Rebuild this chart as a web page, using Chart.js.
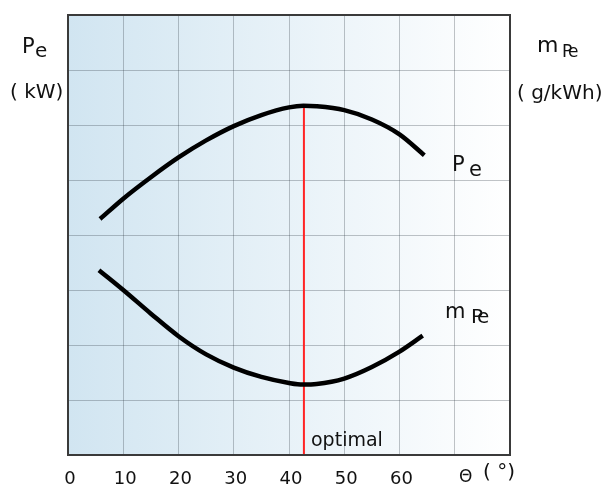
<!DOCTYPE html>
<html>
<head>
<meta charset="utf-8">
<script src="https://cdn.jsdelivr.net/npm/chart.js@4"></script>
<style>
  body { margin: 0; background: #fff; }
  #box { width: 613px; height: 487px; position: relative; }
</style>
</head>
<body>
<div id="box"><canvas id="grafico"></canvas></div>
<script>
// ignition angle (deg) and the two curves read along it
const anguloPe = [5.8, 10, 15, 20, 25, 30, 35, 40, 42.6, 45, 50, 55, 60, 64.5];
const valoresPe = [4.29, 4.66, 5.05, 5.41, 5.72, 5.98, 6.18, 6.32, 6.35, 6.34, 6.27, 6.10, 5.83, 5.45];
const anguloMpe = [5.6, 10, 15, 20, 25, 30, 35, 40, 42.5, 45, 50, 55, 60, 64.2];
const valoresMpe = [3.36, 3.00, 2.57, 2.16, 1.83, 1.59, 1.42, 1.31, 1.28, 1.29, 1.39, 1.60, 1.88, 2.17];
const anguloOtimo = 42.7;
const picoPe = 6.35;
const ticksX = [0, 10, 20, 30, 40, 50, 60];

const FONTE = '"DejaVu Sans", sans-serif';

function pontos(xs, ys) {
    return xs.map((x, i) => ({ x: x, y: ys[i] }));
}

// gradient background + frame of the plot
const fundo = {
    id: 'fundo',
    beforeDraw(chart) {
        const { ctx, chartArea: a } = chart;
        const g = ctx.createLinearGradient(a.left, 0, a.right, 0);
        g.addColorStop(0, '#d1e5f1');
        g.addColorStop(1, '#ffffff');
        ctx.save();
        ctx.fillStyle = g;
        ctx.fillRect(a.left, a.top, a.right - a.left, a.bottom - a.top);
        ctx.restore();
    },
    afterDraw(chart) {
        const { ctx, chartArea: a } = chart;
        ctx.save();
        ctx.strokeStyle = '#3a3a3a';
        ctx.lineWidth = 2;
        ctx.strokeRect(a.left, a.top, a.right - a.left, a.bottom - a.top);

        ctx.fillStyle = '#111';
        ctx.textBaseline = 'alphabetic';
        ctx.textAlign = 'left';
        const t = (s, size, x, y) => { ctx.font = size + 'px ' + FONTE; ctx.fillText(s, x, y); };

        // left axis title
        t('P', 21, 22, 53);
        t('e', 20, 35, 57);
        t('( kW)', 20, 10, 98);
        // right axis title
        t('m', 22, 537, 52);
        t('P', 17, 562, 57);
        t('e', 17, 568, 57);
        t('( g/kWh)', 20, 517, 99);
        // curve names
        t('P', 21, 452, 171);
        t('e', 21, 469, 176);
        t('m', 21, 445, 318);
        t('P', 20, 471, 323);
        t('e', 20, 477, 323);
        // x axis title
        t('\u0398', 17, 459, 482);
        t('( \u00b0)', 20, 483, 478);
        // optimum marker text
        t('optimal', 19, 311, 446);
        ctx.restore();
    }
};

const ctx = document.getElementById('grafico').getContext('2d');
new Chart(ctx, {
    type: 'line',
    data: {
        datasets: [
            {
                label: 'Pe',
                data: pontos(anguloPe, valoresPe),
                borderColor: '#000',
                borderWidth: 4.5,
                pointRadius: 0,
                cubicInterpolationMode: 'monotone',
                fill: false
            },
            {
                label: 'mPe',
                data: pontos(anguloMpe, valoresMpe),
                borderColor: '#000',
                borderWidth: 4.5,
                pointRadius: 0,
                cubicInterpolationMode: 'monotone',
                fill: false
            },
            {
                label: 'optimal',
                data: [{ x: anguloOtimo, y: picoPe }, { x: anguloOtimo, y: 0 }],
                borderColor: '#ff2424',
                borderWidth: 2,
                pointRadius: 0,
                fill: false
            }
        ]
    },
    options: {
        responsive: true,
        maintainAspectRatio: false,
        animation: false,
        layout: { padding: { left: 68, right: 103, top: 15, bottom: 0 } },
        plugins: { legend: { display: false }, tooltip: { enabled: false } },
        scales: {
            x: {
                type: 'linear',
                min: 0,
                max: 80,
                afterFit(scale) { scale.height = 32; },
                afterBuildTicks(scale) {
                    scale.ticks = [0, 10, 20, 30, 40, 50, 60, 70, 80].map(v => ({ value: v }));
                },
                ticks: {
                    callback: v => ticksX.includes(v) ? String(v) : '',
                    font: { family: FONTE, size: 18 },
                    color: '#111',
                    padding: 14,
                    labelOffset: 2,
                    maxRotation: 0,
                    autoSkip: false
                },
                grid: { color: 'rgba(50,60,70,0.3)', drawTicks: false },
                border: { display: false }
            },
            y: {
                type: 'linear',
                min: 0,
                max: 8,
                afterFit(scale) { scale.width = 0; },
                ticks: { display: false, stepSize: 1 },
                grid: { color: 'rgba(50,60,70,0.3)', drawTicks: false },
                border: { display: false }
            }
        }
    },
    plugins: [fundo]
});
</script>
</body>
</html>
